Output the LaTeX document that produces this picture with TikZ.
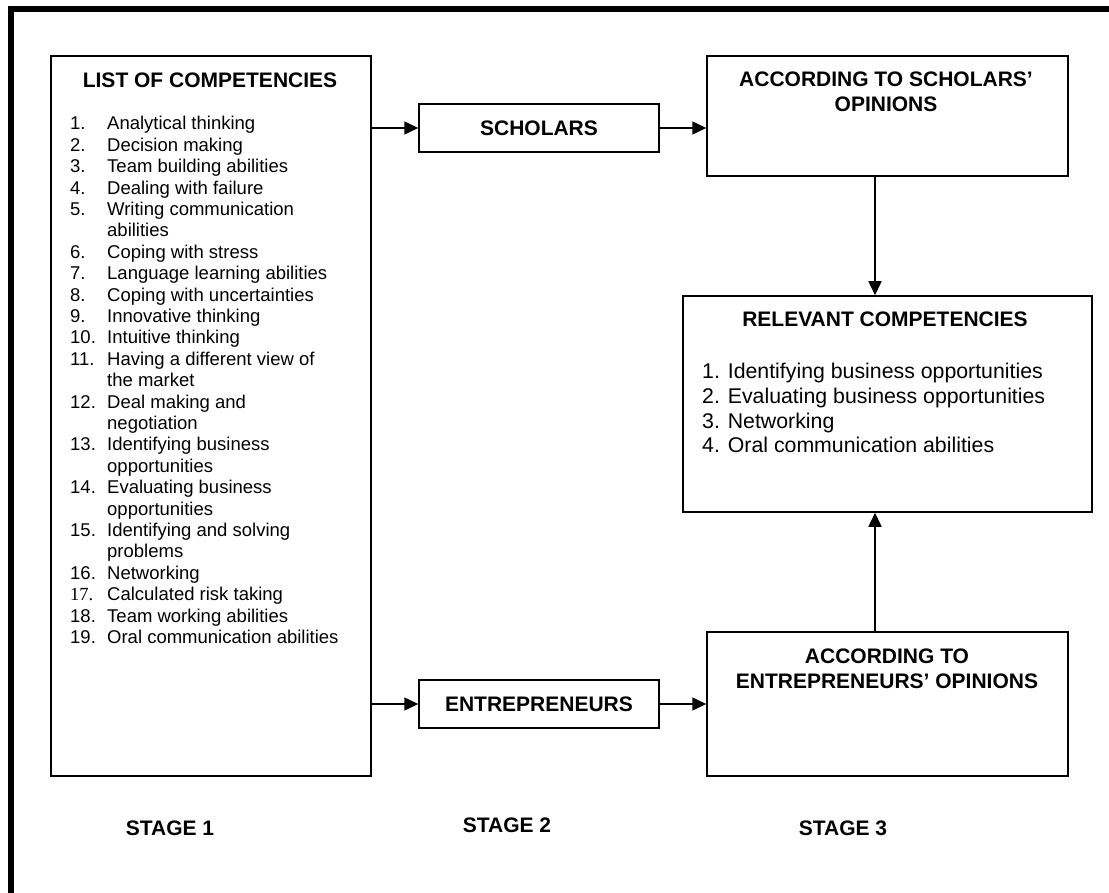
\documentclass[tikz,border=0pt]{standalone}
\usepackage{fontspec}
\setmainfont{Liberation Sans}
\newfontfamily\timesfont{Liberation Serif}
\usetikzlibrary{arrows.meta}
\tikzset{
  box/.style={draw, line width=1.5pt, inner sep=0pt},
  head/.style={font=\fontsize{21}{25}\selectfont\bfseries, inner sep=0pt},
  arr/.style={line width=1.5pt, -{Triangle[length=14pt,width=13pt]}},
  frameline/.style={fill=black}
}
\begin{document}
\begin{tikzpicture}[x=1pt,y=-1pt]
\useasboundingbox (0,0) rectangle (1109,893);
% outer frame (top and left edges)
\fill[frameline] (8,6) rectangle (1109,12);
\fill[frameline] (8,6) rectangle (14,893);
% boxes
\node[box, minimum width=320pt, minimum height=720pt] (list) at (211,416) {};
\node[box, minimum width=240pt, minimum height=48pt, font=\fontsize{21}{25}\selectfont\bfseries] (sch) at (539,128) {SCHOLARS};
\node[box, minimum width=240pt, minimum height=48pt, font=\fontsize{21}{25}\selectfont\bfseries] (ent) at (539,704) {ENTREPRENEURS};
\node[box, minimum width=361pt, minimum height=120pt] (sop) at (887.5,116) {};
\node[box, minimum width=409pt, minimum height=216pt] (rel) at (887.5,404) {};
\node[box, minimum width=361pt, minimum height=144pt] (eop) at (887.5,704) {};
% titles
\node[head, anchor=base] (listtitle) at (210,88) {LIST OF COMPETENCIES};
\node[head, anchor=base] (soptitle) at (886,87) {\begin{tabular}[t]{@{}c@{}}ACCORDING TO SCHOLARS’\\OPINIONS\end{tabular}};
\node[head, anchor=base] (reltitle) at (885,327) {RELEVANT COMPETENCIES};
\node[head, anchor=base] (eoptitle) at (887,663) {\begin{tabular}[t]{@{}c@{}}ACCORDING TO\\ENTREPRENEURS’ OPINIONS\end{tabular}};
% list of competencies
\node[anchor=base west, inner sep=0pt, font=\fontsize{18.5}{21.4}\selectfont] (items) at (70,130) {%
\begin{tabular}[t]{@{}p{37pt}@{}l@{}}
1. & Analytical thinking\\
2. & Decision making\\
3. & Team building abilities\\
4. & Dealing with failure\\
5. & Writing communication\\
   & abilities\\
6. & Coping with stress\\
7. & Language learning abilities\\
8. & Coping with uncertainties\\
9. & Innovative thinking\\
10. & Intuitive thinking\\
11. & Having a different view of\\
    & the market\\
12. & Deal making and\\
    & negotiation\\
13. & Identifying business\\
    & opportunities\\
14. & Evaluating business\\
    & opportunities\\
15. & Identifying and solving\\
    & problems\\
16. & Networking\\
{\timesfont 17.} & Calculated risk taking\\
18. & Team working abilities\\
19. & Oral communication abilities
\end{tabular}};
% relevant competencies list
\node[anchor=base west, inner sep=0pt, font=\fontsize{21.3}{24.6}\selectfont] (relitems) at (702,379) {%
\begin{tabular}[t]{@{}l@{}}
1. Identifying business opportunities\\
2. Evaluating business opportunities\\
3. Networking\\
4. Oral communication abilities
\end{tabular}};
% stage labels
\node[head, anchor=base] (st1) at (170,835) {STAGE 1};
\node[head, anchor=base] (st2) at (507,832) {STAGE 2};
\node[head, anchor=base] (st3) at (843,835) {STAGE 3};
% connectors
\draw[arr] (list.east |- sch.west) -- (sch.west);
\draw[arr] (sch.east) -- (sch.east -| sop.west);
\draw[arr] (list.east |- ent.west) -- (ent.west);
\draw[arr] (ent.east) -- (ent.east -| eop.west);
\draw[arr] ([xshift=-12.5pt]sop.south) -- ([xshift=-12.5pt]rel.north);
\draw[arr] ([xshift=-12.5pt]eop.north) -- ([xshift=-12.5pt]rel.south);
\end{tikzpicture}
\end{document}
